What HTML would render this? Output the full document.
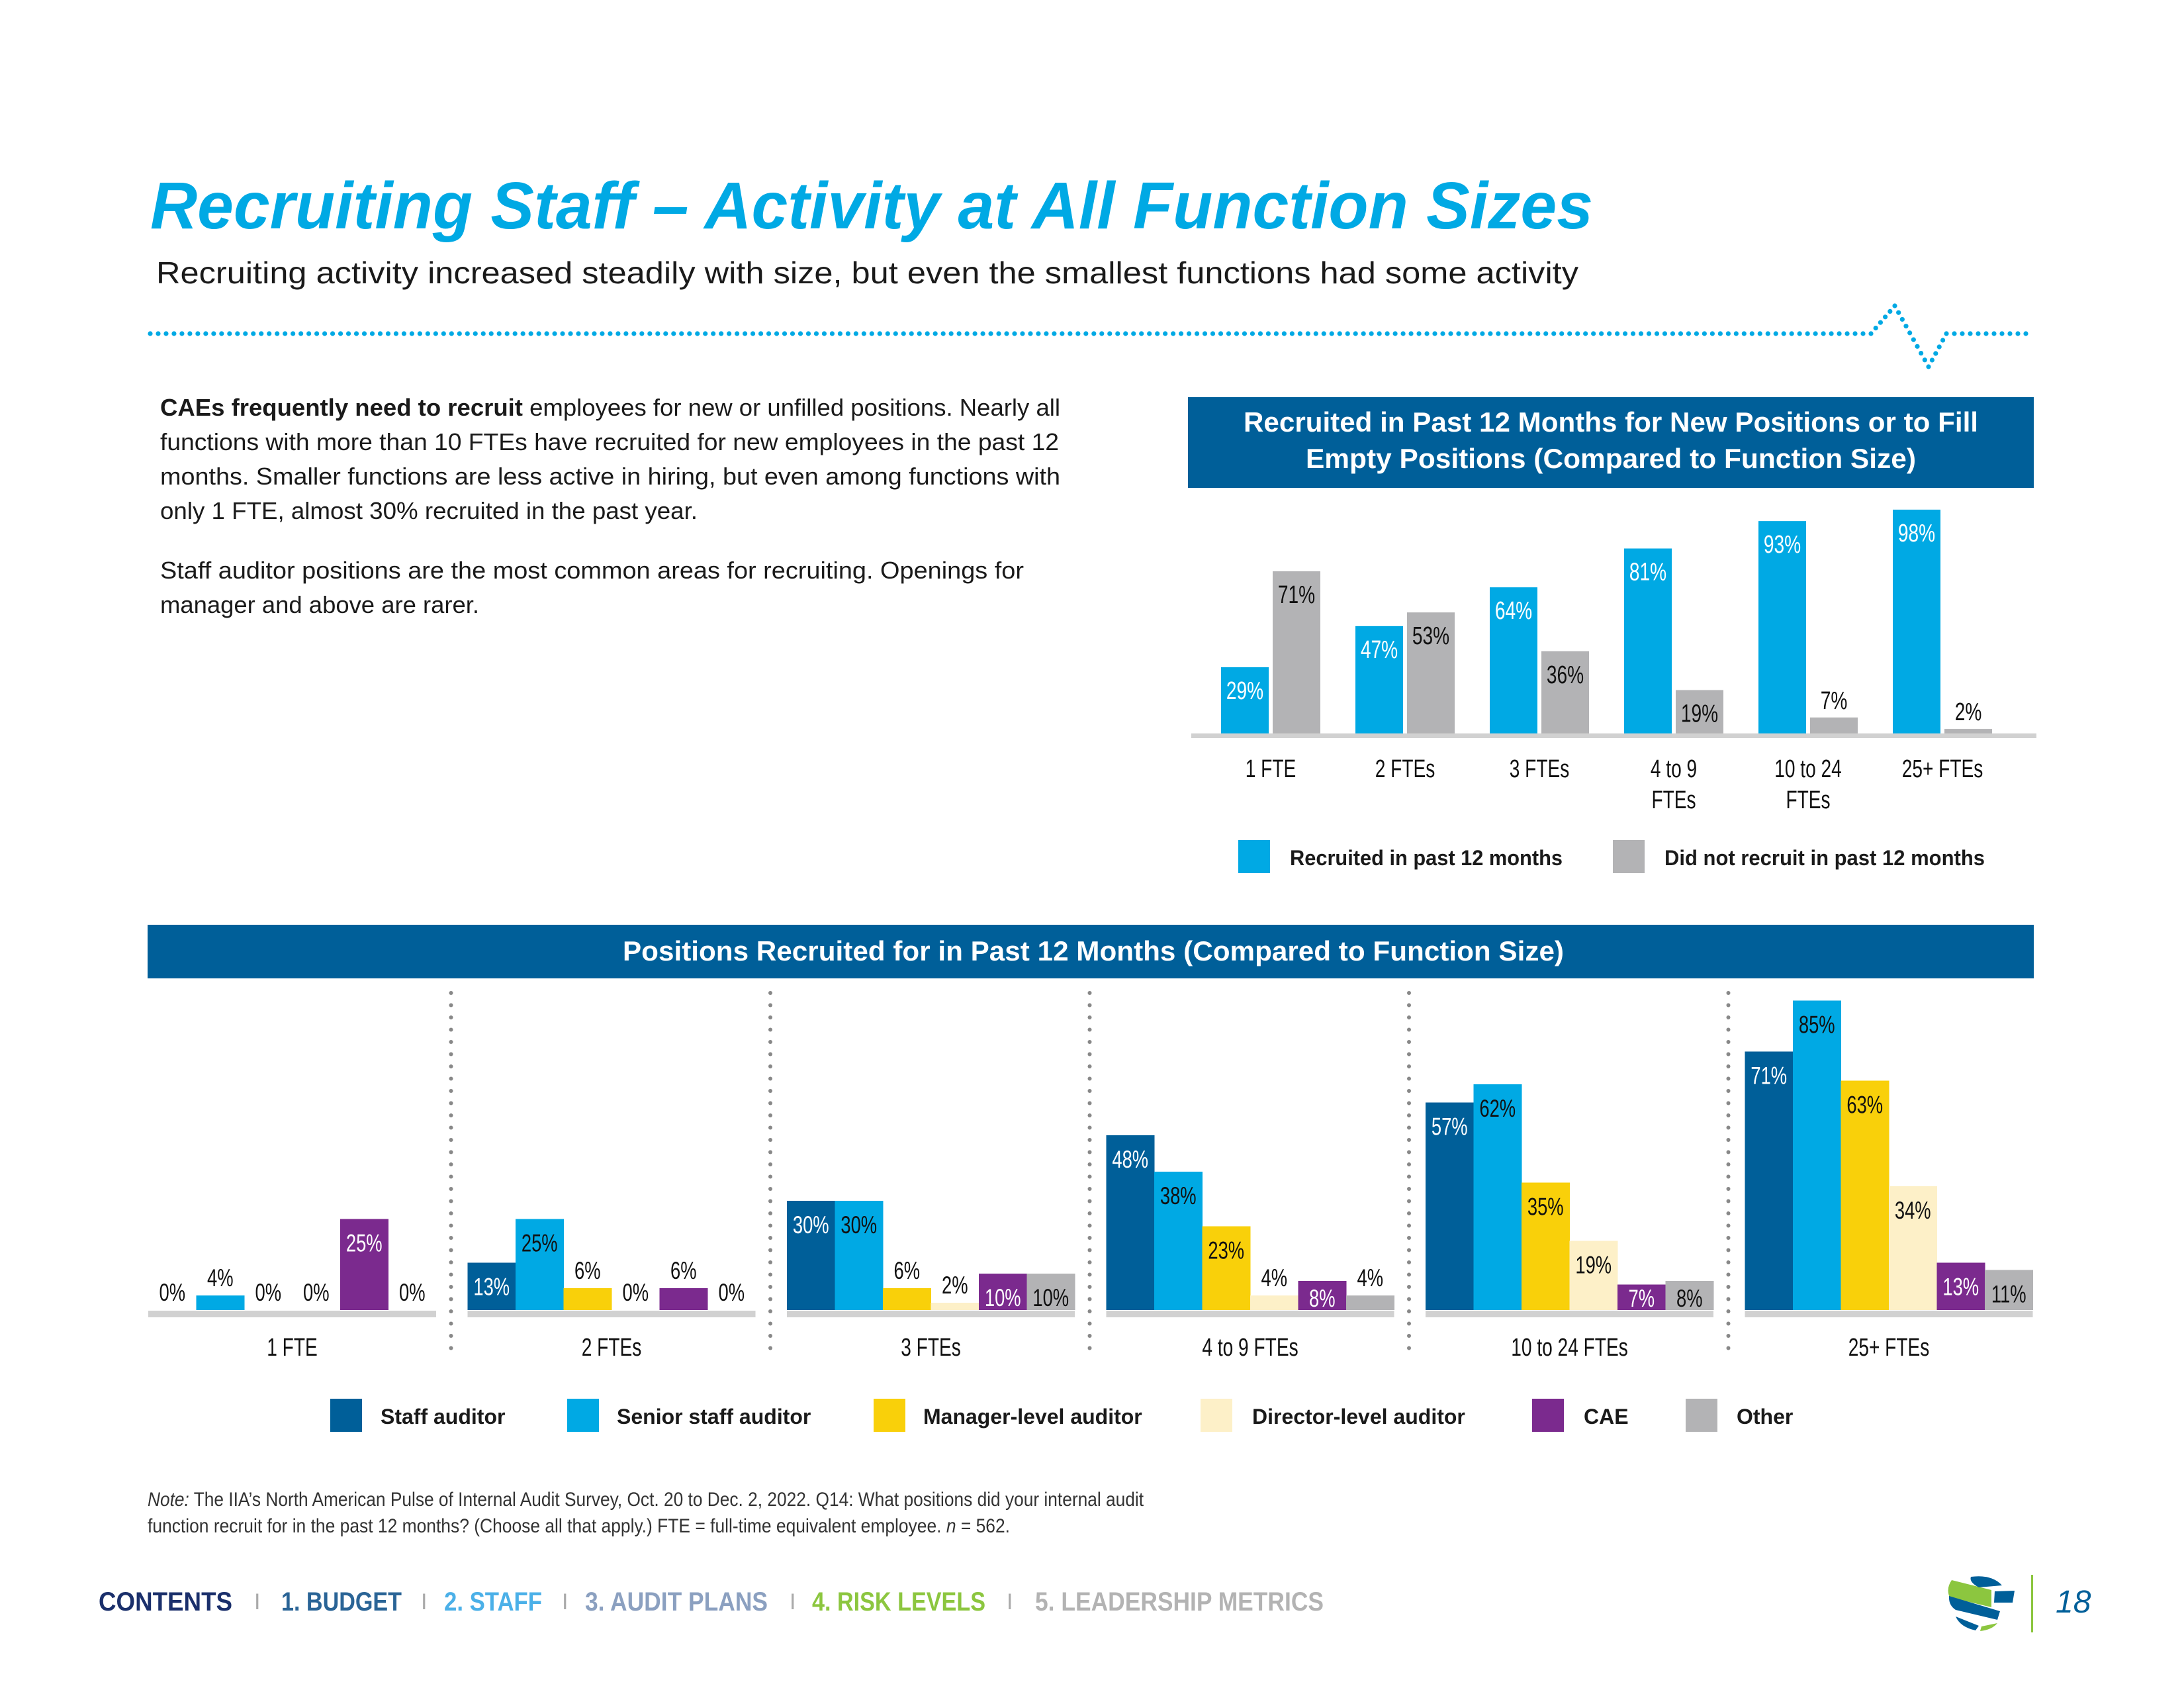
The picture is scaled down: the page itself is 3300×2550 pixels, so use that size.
<!DOCTYPE html>
<html><head><meta charset="utf-8"><style>
html,body{margin:0;padding:0;background:#fff;}
svg{display:block;}
text{font-family:"Liberation Sans",sans-serif;}
.n{font-family:"Liberation Sans Narrow","Liberation Sans",sans-serif;}
</style></head><body>
<svg id="page" xmlns="http://www.w3.org/2000/svg" width="3300" height="2550" viewBox="0 0 3300 2550">
<text x="227" y="345" font-size="100" font-weight="bold" font-style="italic" fill="#00a9e4" textLength="2180" lengthAdjust="spacingAndGlyphs">Recruiting Staff – Activity at All Function Sizes</text>
<text x="236" y="428" font-size="46" fill="#1a1a1a" textLength="2149" lengthAdjust="spacingAndGlyphs">Recruiting activity increased steadily with size, but even the smallest functions had some activity</text>
<g id="divider" fill="#00a9e4"></g>

<g font-size="36" fill="#1a1a1a">
<text x="242" y="628" textLength="1360" lengthAdjust="spacingAndGlyphs"><tspan font-weight="bold">CAEs frequently need to recruit</tspan> employees for new or unfilled positions. Nearly all</text>
<text x="242" y="680" textLength="1358" lengthAdjust="spacingAndGlyphs">functions with more than 10 FTEs have recruited for new employees in the past 12</text>
<text x="242" y="732" textLength="1360" lengthAdjust="spacingAndGlyphs">months. Smaller functions are less active in hiring, but even among functions with</text>
<text x="242" y="784" textLength="812" lengthAdjust="spacingAndGlyphs">only 1 FTE, almost 30% recruited in the past year.</text>
<text x="242" y="874" textLength="1305" lengthAdjust="spacingAndGlyphs">Staff auditor positions are the most common areas for recruiting. Openings for</text>
<text x="242" y="926" textLength="482" lengthAdjust="spacingAndGlyphs">manager and above are rarer.</text>
</g>

<rect x="1795" y="600" width="1278" height="137" fill="#005f99"/>
<text x="2434" y="652" text-anchor="middle" font-size="42" font-weight="bold" fill="#fff" textLength="1110" lengthAdjust="spacingAndGlyphs">Recruited in Past 12 Months for New Positions or to Fill</text>
<text x="2434" y="707" text-anchor="middle" font-size="42" font-weight="bold" fill="#fff" textLength="922" lengthAdjust="spacingAndGlyphs">Empty Positions (Compared to Function Size)</text>
<g id="topChart"></g>

<g>
<rect x="1871" y="1269" width="48" height="50" fill="#00a9e4"/>
<text x="1949" y="1307" font-size="32" font-weight="bold" fill="#1a1a1a" textLength="412" lengthAdjust="spacingAndGlyphs">Recruited in past 12 months</text>
<rect x="2437" y="1269" width="48" height="50" fill="#b3b3b5"/>
<text x="2515" y="1307" font-size="32" font-weight="bold" fill="#1a1a1a" textLength="484" lengthAdjust="spacingAndGlyphs">Did not recruit in past 12 months</text>
</g>

<rect x="223" y="1397" width="2850" height="81" fill="#005f99"/>
<text x="1652" y="1451" text-anchor="middle" font-size="42" font-weight="bold" fill="#fff" textLength="1422" lengthAdjust="spacingAndGlyphs">Positions Recruited for in Past 12 Months (Compared to Function Size)</text>
<g id="bottomChart"></g>

<g font-size="32" font-weight="bold" fill="#1a1a1a">
<rect x="499" y="2113" width="48" height="50" fill="#005f99"/>
<text x="575" y="2151">Staff auditor</text>
<rect x="857" y="2113" width="48" height="50" fill="#00a9e4"/>
<text x="932" y="2151">Senior staff auditor</text>
<rect x="1320" y="2113" width="48" height="50" fill="#f9d00a"/>
<text x="1395" y="2151">Manager-level auditor</text>
<rect x="1814" y="2113" width="48" height="50" fill="#fdf0c8"/>
<text x="1892" y="2151">Director-level auditor</text>
<rect x="2315" y="2113" width="48" height="50" fill="#7b2a8e"/>
<text x="2393" y="2151">CAE</text>
<rect x="2547" y="2113" width="48" height="50" fill="#b3b3b5"/>
<text x="2624" y="2151">Other</text>
</g>

<g class="n" font-size="30" fill="#333">
<text class="n" x="223" y="2275" textLength="1505" lengthAdjust="spacingAndGlyphs"><tspan font-style="italic">Note:</tspan> The IIA’s North American Pulse of Internal Audit Survey, Oct. 20 to Dec. 2, 2022. Q14: What positions did your internal audit</text>
<text class="n" x="223" y="2315" textLength="1303" lengthAdjust="spacingAndGlyphs">function recruit for in the past 12 months? (Choose all that apply.) FTE = full-time equivalent employee.  <tspan font-style="italic">n</tspan> = 562.</text>
</g>

<g font-size="40" font-weight="bold">
<text class="n" x="149" y="2433" fill="#1a2f6b" textLength="202" lengthAdjust="spacingAndGlyphs">CONTENTS</text>
<text class="n" x="384" y="2431" fill="#aaa" font-weight="normal" font-size="34">I</text>
<text class="n" x="425" y="2433" fill="#2a6496" textLength="182" lengthAdjust="spacingAndGlyphs">1. BUDGET</text>
<text class="n" x="636" y="2431" fill="#aaa" font-weight="normal" font-size="34">I</text>
<text class="n" x="671" y="2433" fill="#4bb0e8" textLength="148" lengthAdjust="spacingAndGlyphs">2. STAFF</text>
<text class="n" x="849" y="2431" fill="#aaa" font-weight="normal" font-size="34">I</text>
<text class="n" x="884" y="2433" fill="#8ba0c0" textLength="276" lengthAdjust="spacingAndGlyphs">3. AUDIT PLANS</text>
<text class="n" x="1193" y="2431" fill="#aaa" font-weight="normal" font-size="34">I</text>
<text class="n" x="1227" y="2433" fill="#8cc63f" textLength="262" lengthAdjust="spacingAndGlyphs">4. RISK LEVELS</text>
<text class="n" x="1521" y="2431" fill="#aaa" font-weight="normal" font-size="34">I</text>
<text class="n" x="1564" y="2433" fill="#b3b3b3" textLength="436" lengthAdjust="spacingAndGlyphs">5. LEADERSHIP METRICS</text>
</g>

<g>
<path d="M2949 2387 L3009 2402 L3009 2428 L2946 2413 Q2940 2400 2949 2387Z" fill="#8cc63f"/>
<path d="M2978 2382 Q3010 2378 3025 2395 L2990 2398 Q2975 2390 2978 2382Z" fill="#005f99"/>
<path d="M3014 2404 L3044 2403 L3041 2421 L3013 2421Z" fill="#005f99"/>
<path d="M2945 2411 L3022 2434 L3018 2447 L2955 2432 Q2944 2425 2945 2411Z" fill="#005f99"/>
<path d="M2955 2442 L2990 2456 L2985 2463 Q2962 2458 2955 2442Z" fill="#005f99"/>
<path d="M2994 2457 L3018 2452 Q3010 2462 2992 2464Z" fill="#8cc63f"/>
</g>
<rect x="3069" y="2379" width="3" height="87" fill="#8cc63f"/>
<text x="3106" y="2436" font-size="48" font-style="italic" fill="#005f99">18</text>
</svg>
<script>
// ---- Top chart data ----
const topCategories = [["1 FTE"],["2 FTEs"],["3 FTEs"],["4 to 9","FTEs"],["10 to 24","FTEs"],["25+ FTEs"]];
const recruitedValues = [29,47,64,81,93,98];
const notRecruitedValues = [71,53,36,19,7,2];
// ---- Bottom chart data ----
const bottomCategories = ["1 FTE","2 FTEs","3 FTEs","4 to 9 FTEs","10 to 24 FTEs","25+ FTEs"];
const staffValues = [0,13,30,48,57,71];
const seniorValues = [4,25,30,38,62,85];
const managerValues = [0,6,6,23,35,63];
const directorValues = [0,0,2,4,19,34];
const caeValues = [25,6,10,8,7,13];
const otherValues = [0,0,10,4,8,11];

const NS = "http://www.w3.org/2000/svg";
function mk(tag, attrs, parent, txt){
  const e = document.createElementNS(NS, tag);
  for (const k in attrs) e.setAttribute(k, attrs[k]);
  if (txt !== undefined) e.textContent = txt;
  parent.appendChild(e);
  return e;
}
// condensed text: centered at (x,y), horizontally squeezed
function ctext(parent, x, y, size, fill, str){
  return mk('text',{x:0,y:0,'text-anchor':'middle','font-size':size,fill:fill,
    transform:'translate('+x+','+y+') scale(0.74,1)'},parent,str);
}

// divider dots
(function(){
  const g = document.getElementById('divider');
  const pts = [[227,504],[2827,504],[2863,462],[2914,554],[2941,504],[3073,504]];
  for (let i=0;i<pts.length-1;i++){
    const [x0,y0]=pts[i],[x1,y1]=pts[i+1];
    const len=Math.hypot(x1-x0,y1-y0), n=Math.max(1,Math.round(len/12));
    for(let k=0;k<n;k++){
      const t=k/n;
      const c=mk('circle',{cx:x0+(x1-x0)*t,cy:y0+(y1-y0)*t,r:3.6},g);
      
      
    }
  }
})();

// top chart
(function(){
  const g = document.getElementById('topChart');
  const base = 1108, perUnit = 3.45;
  const yT = v => base - v*perUnit;
  const xT = i => 1845 + 203*i;
  const band = mk('rect',{x:1800,y:base,width:1277,height:7,fill:'#d1d1d1'},g);
  
  
  const series = [[recruitedValues,'#00a9e4','#fff',0,'bar-recruited'],[notRecruitedValues,'#b3b3b5','#111',78,'bar-not-recruited']];
  series.forEach(([vals,col,lc,off,nm])=>{
    vals.forEach((v,i)=>{
      const x = xT(i)+off, top = yT(v);
      const r = mk('rect',{x:x,y:top,width:72,height:base-top,fill:col},g);
      
      
      const inside = v>=10;
      const ly = inside ? Math.min(top+48, base-6) : top-13;
      const t = ctext(g, x+36, ly, 38, inside?lc:'#111', v+'%');
      
      
    });
  });
  topCategories.forEach((lines,i)=>{
    lines.forEach((ln,j)=>{
      const t = ctext(g, xT(i)+75, 1174+47*j, 38, '#111', ln);
      
      
    });
  });
})();

// bottom chart
(function(){
  const g = document.getElementById('bottomChart');
  const base = 1979, perUnit = 5.5, bw = 72.5;
  const yB = v => base - v*perUnit;
  const xG = gi => 224 + 482.5*gi;
  for (let s=1;s<6;s++){
    const sx = xG(s)-25;
    for (let y=1500;y<=2052;y+=18.5){
      const c = mk('circle',{cx:sx,cy:y,r:3,fill:'#888'},g);
      
      
    }
  }
  const series = [
    [staffValues,'#005f99','#fff','bar-staff-auditor'],
    [seniorValues,'#00a9e4','#111','bar-senior-staff-auditor'],
    [managerValues,'#f9d00a','#111','bar-manager-auditor'],
    [directorValues,'#fdf0c8','#111','bar-director-auditor'],
    [caeValues,'#7b2a8e','#fff','bar-cae'],
    [otherValues,'#b3b3b5','#111','bar-other']
  ];
  bottomCategories.forEach((cat,gi)=>{
    const band = mk('rect',{x:xG(gi),y:base+1,width:bw*6,height:10,fill:'#d1d1d1'},g);
    
    
    const t = ctext(g, xG(gi)+bw*3, 2048, 38, '#111', cat);
    
    
  });
  series.forEach(([vals,col,lc,nm],si)=>{
    vals.forEach((v,gi)=>{
      const x = xG(gi)+bw*si, top = yB(v);
      if (v>0){
        const r = mk('rect',{x:x,y:top,width:bw+0.5,height:base-top,fill:col},g);
        
        
      }
      const inside = v>=7;
      const ly = inside ? Math.min(top+49, base-5) : top-14;
      const t = ctext(g, x+bw/2, ly, 37, inside?lc:'#111', v+'%');
      
      
    });
  });
})();
</script>
</body></html>
